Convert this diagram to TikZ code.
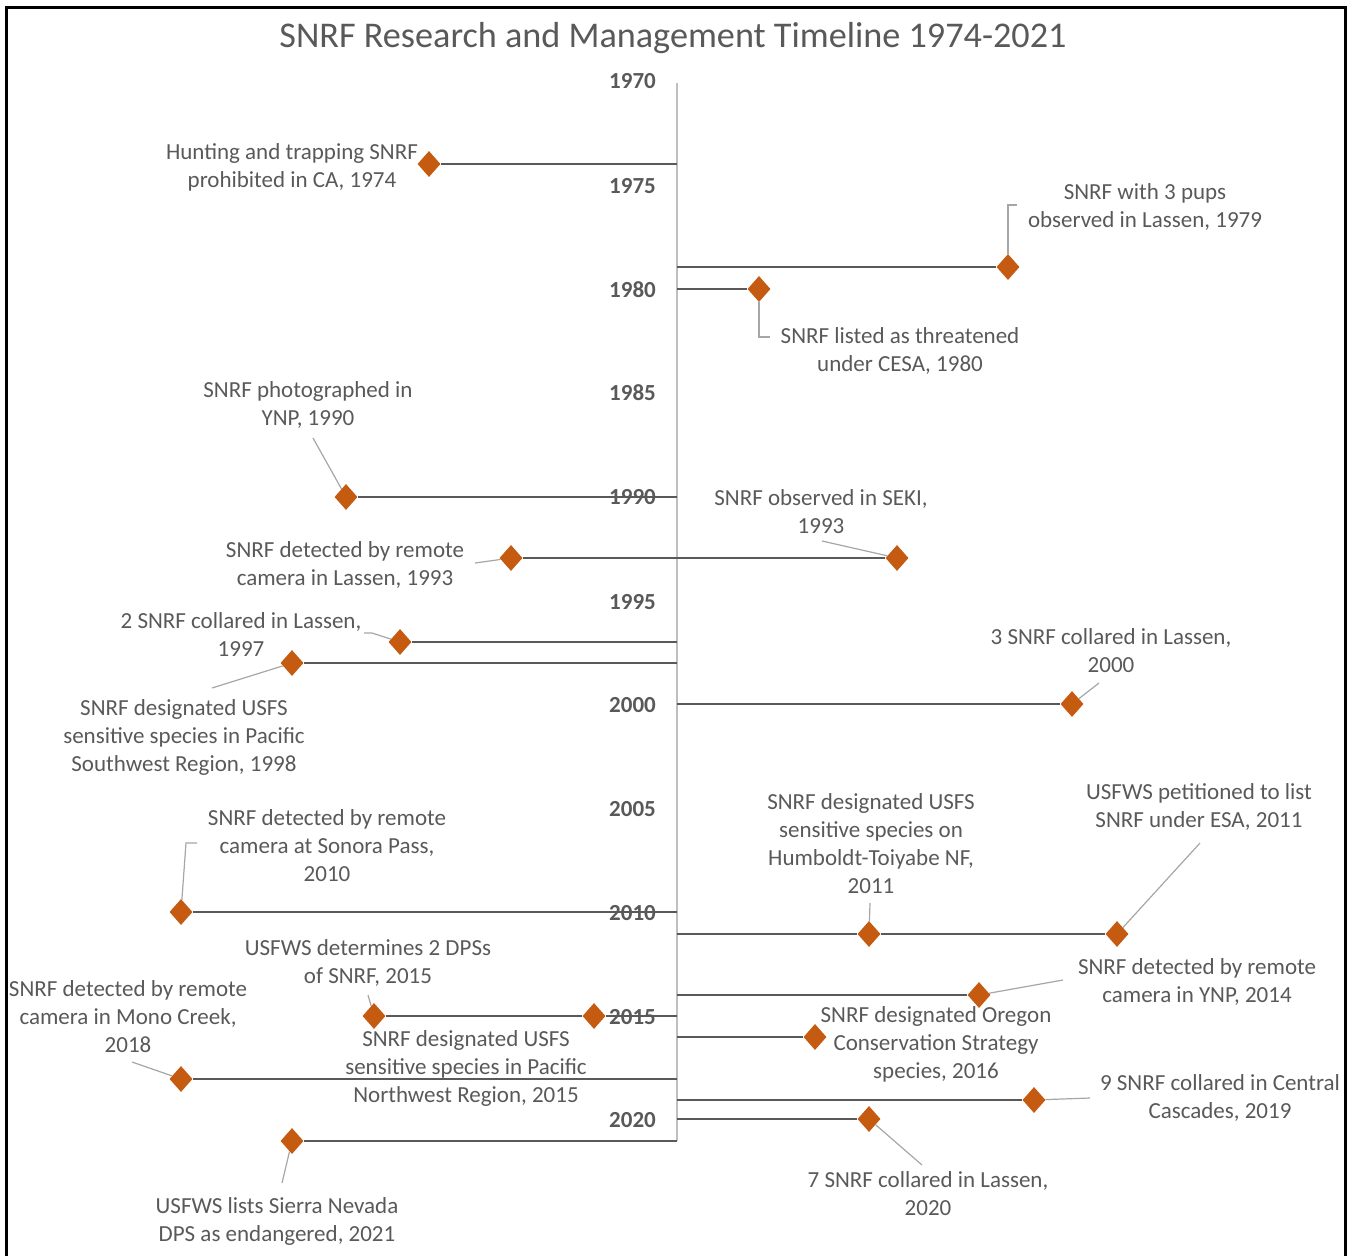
\documentclass[tikz,border=0pt]{standalone}
\usepackage{fontspec}
\setmainfont{Carlito}
\usetikzlibrary{shapes.geometric}
\definecolor{txtgray}{HTML}{595959}
\definecolor{stemgray}{HTML}{595959}
\definecolor{axisgray}{HTML}{BFBFBF}
\definecolor{leadgray}{HTML}{A6A6A6}
\definecolor{evtorange}{HTML}{C55A11}

\begin{document}
\begin{tikzpicture}[x=1pt,y=-1pt,
  lbl/.style={align=center,text=txtgray,font=\fontsize{23}{28}\selectfont,inner sep=0pt},
  yr/.style={anchor=east,text=txtgray,font=\fontsize{23}{28}\selectfont\bfseries,inner sep=0pt},
  evt/.style={diamond,fill=evtorange,inner sep=0pt,minimum width=23pt,minimum height=26pt},
  stem/.style={stemgray,line width=2pt},
  leader/.style={leadgray,line width=1.2pt}]
 \useasboundingbox (0,0) rectangle (1351,1255);
 \draw[line width=3pt] (6,1262) -- (6,8) -- (1345,8) -- (1345,1262);
 \node[text=txtgray,font=\fontsize{36.2}{40}\selectfont,inner sep=0pt] (title) at (673,38) {SNRF Research and Management Timeline 1974-2021};

 % year axis
 \coordinate (top) at (677,83);
 \coordinate (bot) at (677,1141);
 \draw[axisgray,line width=1.5pt] (top) -- (bot);
 \node[yr] (y1970) at (656,81) {1970};
 \node[yr] (y1975) at (656,186) {1975};
 \node[yr] (y1980) at (656,290) {1980};
 \node[yr] (y1985) at (656,393) {1985};
 \node[yr] (y1990) at (656,497) {1990};
 \node[yr] (y1995) at (656,602) {1995};
 \node[yr] (y2000) at (656,705) {2000};
 \node[yr] (y2005) at (656,809) {2005};
 \node[yr] (y2010) at (656,913) {2010};
 \node[yr] (y2015) at (656,1017) {2015};
 \node[yr] (y2020) at (656,1120) {2020};

 % points on the axis
 \coordinate (a74) at (677,164);
 \coordinate (a79) at (677,267);
 \coordinate (a80) at (677,289);
 \coordinate (a90) at (677,497);
 \coordinate (a97) at (677,642);
 \coordinate (a98) at (677,663);
 \coordinate (a00) at (677,704);
 \coordinate (a10) at (677,912);
 \coordinate (a11) at (677,934);
 \coordinate (a14) at (677,995);
 \coordinate (a15) at (677,1016);
 \coordinate (a16) at (677,1037);
 \coordinate (a18) at (677,1079);
 \coordinate (a19) at (677,1100);
 \coordinate (a20) at (677,1119);

 % events
 \node[evt] (d74) at (429,164) {};
 \node[evt] (d79) at (1008,267) {};
 \node[evt] (d80) at (759,289) {};
 \node[evt] (d90) at (346,497) {};
 \node[evt] (d93cam) at (511,558) {};
 \node[evt] (d93seki) at (897,558) {};
 \node[evt] (d97) at (400,642) {};
 \node[evt] (d98) at (292,663) {};
 \node[evt] (d00) at (1072,704) {};
 \node[evt] (d10) at (181,912) {};
 \node[evt] (d11ht) at (869,934) {};
 \node[evt] (d11esa) at (1117,934) {};
 \node[evt] (d14) at (979,995) {};
 \node[evt] (d15dps) at (374,1016) {};
 \node[evt] (d15pnw) at (594,1016) {};
 \node[evt] (d16) at (815,1037) {};
 \node[evt] (d18) at (181,1079) {};
 \node[evt] (d19) at (1034,1100) {};
 \node[evt] (d20) at (869,1119) {};
 \node[evt] (d21) at (292,1141) {};

 \draw[stem] (a74) -- (d74);
 \draw[stem] (a79) -- (d79);
 \draw[stem] (a80) -- (d80);
 \draw[stem] (a90) -- (d90);
 \draw[stem] (d93cam) -- (d93seki);
 \draw[stem] (a97) -- (d97);
 \draw[stem] (a98) -- (d98);
 \draw[stem] (a00) -- (d00);
 \draw[stem] (a10) -- (d10);
 \draw[stem] (a11) -- (d11ht) -- (d11esa);
 \draw[stem] (a14) -- (d14);
 \draw[stem] (a15) -- (d15pnw) -- (d15dps);
 \draw[stem] (a16) -- (d16);
 \draw[stem] (a18) -- (d18);
 \draw[stem] (a19) -- (d19);
 \draw[stem] (a20) -- (d20);
 \draw[stem] (bot) -- (d21);

 % labels
 \node[lbl] (t74) at (292,167) {Hunting and trapping SNRF\\prohibited in CA, 1974};
 \node[lbl] (t79) at (1145,207) {SNRF with 3 pups\\observed in Lassen, 1979};
 \node[lbl] (t80) at (900,351) {SNRF listed as threatened\\under CESA, 1980};
 \node[lbl] (t90) at (308,405) {SNRF photographed in\\YNP, 1990};
 \node[lbl] (t93seki) at (821,512) {SNRF observed in SEKI,\\1993};
 \node[lbl] (t93cam) at (345,565) {SNRF detected by remote\\camera in Lassen, 1993};
 \node[lbl] (t97) at (241,635) {2 SNRF collared in Lassen,\\1997};
 \node[lbl] (t98) at (184,737) {SNRF designated USFS\\sensitive species in Pacific\\Southwest Region, 1998};
 \node[lbl] (t00) at (1111,651) {3 SNRF collared in Lassen,\\2000};
 \node[lbl] (t10) at (327,846) {SNRF detected by remote\\camera at Sonora Pass,\\2010};
 \node[lbl] (t11ht) at (871,844) {SNRF designated USFS\\sensitive species on\\Humboldt-Toiyabe NF,\\2011};
 \node[lbl] (t11esa) at (1199,807) {USFWS petitioned to list\\SNRF under ESA, 2011};
 \node[lbl] (t14) at (1197,982) {SNRF detected by remote\\camera in YNP, 2014};
 \node[lbl] (t15dps) at (368,963) {USFWS determines 2 DPSs\\of SNRF, 2015};
 \node[lbl] (t15pnw) at (466,1068) {SNRF designated USFS\\sensitive species in Pacific\\Northwest Region, 2015};
 \node[lbl] (t16) at (936,1044) {SNRF designated Oregon\\Conservation Strategy\\species, 2016};
 \node[lbl] (t18) at (128,1017) {SNRF detected by remote\\camera in Mono Creek,\\2018};
 \node[lbl] (t19) at (1220,1098) {9 SNRF collared in Central\\Cascades, 2019};
 \node[lbl] (t20) at (928,1194) {7 SNRF collared in Lassen,\\2020};
 \node[lbl] (t21) at (277,1221) {USFWS lists Sierra Nevada\\DPS as endangered, 2021};

 % leader lines
 \coordinate (l79) at (1008,205);
 \coordinate (l80) at (759,337);
 \coordinate (l90) at (313,438);
 \coordinate (l93seki) at (822,541);
 \coordinate (l93cam) at (475,563);
 \coordinate (l97) at (372,633);
 \coordinate (l98) at (212,688);
 \coordinate (l00) at (1099,683);
 \coordinate (l10) at (186,843);
 \coordinate (l11ht) at (870,903);
 \coordinate (l11esa) at (1200,843);
 \coordinate (l14) at (1063,980);
 \coordinate (l15dps) at (368,995);
 \coordinate (l18) at (132,1062);
 \coordinate (l19) at (1090,1098);
 \coordinate (l20) at (922,1165);
 \coordinate (l21) at (282,1183);
 \draw[leader] (d79) -- (l79) -- ++(9,0);
 \draw[leader] (d80) -- (l80) -- ++(11,0);
 \draw[leader] (d90) -- (l90);
 \draw[leader] (d93seki) -- (l93seki);
 \draw[leader] (d93cam) -- (l93cam);
 \draw[leader] (d97) -- (l97) -- ++(-8,0);
 \draw[leader] (d98) -- (l98);
 \draw[leader] (d00) -- (l00);
 \draw[leader] (d10) -- (l10) -- ++(11,0);
 \draw[leader] (d11ht) -- (l11ht);
 \draw[leader] (d11esa) -- (l11esa);
 \draw[leader] (d14) -- (l14);
 \draw[leader] (d15dps) -- (l15dps);
 \draw[leader] (d18) -- (l18);
 \draw[leader] (d19) -- (l19);
 \draw[leader] (d20) -- (l20);
 \draw[leader] (d21) -- (l21);
\end{tikzpicture}
\end{document}
